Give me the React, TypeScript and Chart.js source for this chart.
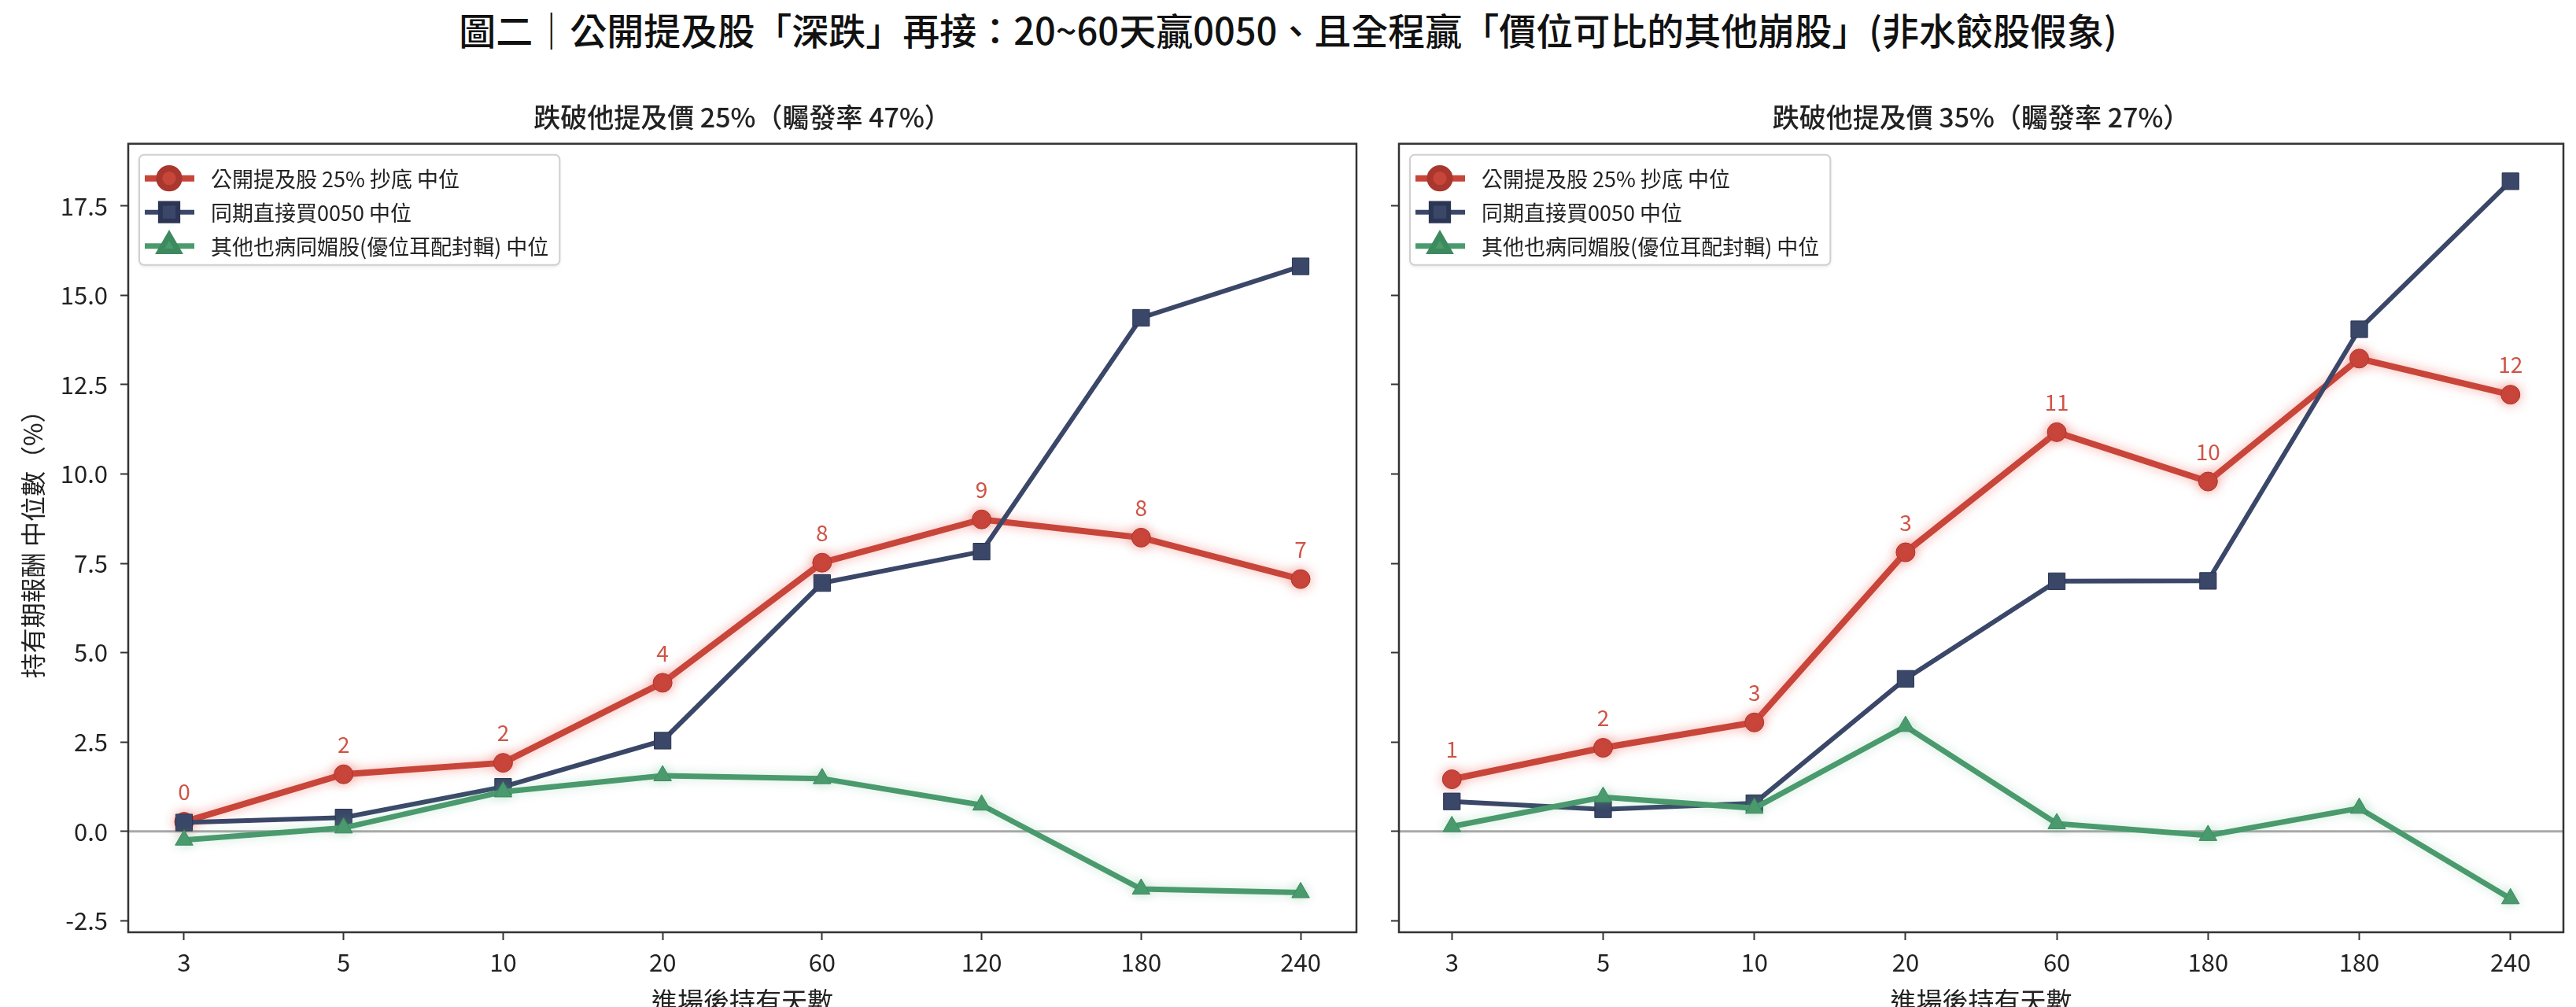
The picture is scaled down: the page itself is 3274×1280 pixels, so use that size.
import { useEffect, useRef } from "react";
import { Chart, registerables } from "chart.js";
import { drawPoint } from "chart.js/helpers";

Chart.register(...registerables);

const FONT = "'Noto Sans CJK TC', 'Noto Sans', sans-serif";

const mainTitle = "圖二｜公開提及股「深跌」再接：20~60天贏0050、且全程贏「價位可比的其他崩股」(非水餃股假象)";
const seriesNames = ["公開提及股 25% 抄底 中位", "同期直接買0050 中位", "其他也病同媚股(優位耳配封輯) 中位"];
const yTitle = "持有期報酬 中位數（%）";
const xTitle = "進場後持有天數";

// left panel: 跌破 25%
const daysLeft = ["3", "5", "10", "20", "60", "120", "180", "240"];
const pickLeft = [0.27, 1.6, 1.92, 4.16, 7.52, 8.73, 8.22, 7.06];
const etfLeft = [0.25, 0.39, 1.25, 2.54, 6.95, 7.83, 14.37, 15.81];
const peersLeft = [-0.24, 0.1, 1.11, 1.56, 1.48, 0.74, -1.61, -1.71];
const pickLeftTags = ["0", "2", "2", "4", "8", "9", "8", "7"];

// right panel: 跌破 35%
const daysRight = ["3", "5", "10", "20", "60", "180", "180", "240"];
const pickRight = [1.46, 2.34, 3.05, 7.81, 11.17, 9.79, 13.23, 12.22];
const etfRight = [0.84, 0.62, 0.79, 4.27, 7.0, 7.01, 14.05, 18.19];
const peersRight = [0.14, 0.96, 0.65, 2.94, 0.22, -0.11, 0.65, -1.88];
const pickRightTags = ["1", "2", "3", "3", "11", "10", "", "12"];

const yTicks = [-2.5, 0, 2.5, 5, 7.5, 10, 12.5, 15, 17.5];

const RED = "#c8453a";
const NAVY = "#3b4768";
const GREEN = "#4a9a6e";

const decorPlugin = {
    id: "decor",
    beforeDatasetsDraw(chart: any) {
        const { ctx, chartArea: a, scales } = chart;
        const y0 = scales.y.getPixelForValue(0);
        ctx.save();
        ctx.strokeStyle = "#a9a9a9";
        ctx.lineWidth = 3;
        ctx.beginPath();
        ctx.moveTo(a.left, y0);
        ctx.lineTo(a.right, y0);
        ctx.stroke();
        ctx.restore();
    },
    beforeDatasetDraw(chart: any, args: any) {
        const ds = chart.data.datasets[args.index];
        if (ds.glow) {
            chart.ctx.save();
            chart.ctx.shadowColor = ds.glow;
            chart.ctx.shadowBlur = 14;
        }
    },
    afterDatasetDraw(chart: any, args: any) {
        const ds = chart.data.datasets[args.index];
        if (ds.glow) chart.ctx.restore();
    },
    afterDatasetsDraw(chart: any) {
        const { ctx, chartArea: a } = chart;
        ctx.save();
        // value tags above the red points
        chart.data.datasets.forEach((ds: any, di: number) => {
            if (!ds.tags) return;
            const meta = chart.getDatasetMeta(di);
            ctx.fillStyle = "#cf5446";
            ctx.font = `28px ${FONT}`;
            ctx.textAlign = "center";
            ctx.textBaseline = "middle";
            meta.data.forEach((pt: any, i: number) => {
                if (ds.tags[i]) ctx.fillText(ds.tags[i], pt.x, pt.y - 38);
            });
        });
        // frame
        ctx.strokeStyle = "#333";
        ctx.lineWidth = 2.5;
        ctx.strokeRect(a.left, a.top, a.right - a.left, a.bottom - a.top);

        // legend
        ctx.font = `27px ${FONT}`;
        const textW = Math.max(...chart.data.datasets.map((d: any) => ctx.measureText(d.label).width));
        const bx = a.left + 14;
        const by = a.top + 14;
        const bw = 91 + textW + 14;
        const bh = 140;
        ctx.shadowColor = "rgba(0,0,0,0.12)";
        ctx.shadowBlur = 4;
        ctx.shadowOffsetY = 2;
        ctx.fillStyle = "#fff";
        ctx.beginPath();
        ctx.roundRect(bx, by, bw, bh, 6);
        ctx.fill();
        ctx.shadowColor = "transparent";
        ctx.strokeStyle = "#d0d0d0";
        ctx.lineWidth = 2;
        ctx.stroke();
        chart.data.datasets.forEach((d: any, i: number) => {
            const cy = by + 30 + i * 43;
            ctx.strokeStyle = d.borderColor;
            ctx.lineWidth = d.borderWidth;
            ctx.beginPath();
            ctx.moveTo(bx + 7, cy);
            ctx.lineTo(bx + 70, cy);
            ctx.stroke();
            ctx.fillStyle = d.backgroundColor;
            ctx.strokeStyle = d.pointBorderColor;
            drawPoint(ctx, { pointStyle: d.pointStyle, radius: d.pointRadius * 1.05, borderWidth: 1, rotation: 0 }, bx + 38, cy);
            ctx.fillStyle = "#222";
            ctx.textAlign = "left";
            ctx.textBaseline = "middle";
            ctx.fillText(d.label, bx + 91, cy + 1);
        });
        ctx.restore();
    },
};

interface PanelProps {
    title: string;
    days: string[];
    pick: number[];
    etf: number[];
    peers: number[];
    tags: string[];
    showY: boolean;
    left: number;
    width: number;
    yWidth: number;
    padRight: number;
}

const Panel: React.FC<PanelProps> = ({ title, days, pick, etf, peers, tags, showY, left, width, yWidth, padRight }) => {
    const canvasRef = useRef<HTMLCanvasElement | null>(null);

    useEffect(() => {
        if (!canvasRef.current) return;
        const pts = (vals: number[]) => vals.map((y, i) => ({ x: i, y }));
        const tickFont = { family: FONT, size: 31 };
        const chart = new Chart(canvasRef.current, {
            type: "line",
            data: {
                datasets: [
                    {
                        label: seriesNames[0],
                        data: pts(pick),
                        borderColor: RED,
                        backgroundColor: RED,
                        borderWidth: 8,
                        pointStyle: "circle",
                        pointRadius: 12,
                        pointBorderColor: "#a9372d",
                        pointBorderWidth: 1,
                        order: 2,
                        glow: "rgba(235,90,80,0.5)",
                        tags,
                    } as any,
                    {
                        label: seriesNames[1],
                        data: pts(etf),
                        borderColor: NAVY,
                        backgroundColor: NAVY,
                        borderWidth: 6,
                        pointStyle: "rect",
                        pointRadius: 15,
                        pointBorderColor: "#2c3654",
                        pointBorderWidth: 1,
                        order: 1,
                    },
                    {
                        label: seriesNames[2],
                        data: pts(peers),
                        borderColor: GREEN,
                        backgroundColor: GREEN,
                        borderWidth: 7,
                        pointStyle: "triangle",
                        pointRadius: 13,
                        pointBorderColor: "#3d8a5f",
                        pointBorderWidth: 1,
                        order: 0,
                        glow: "rgba(90,180,130,0.3)",
                    } as any,
                ],
            },
            options: {
                animation: false,
                responsive: false,
                layout: { padding: { left: 0, right: padRight, top: 0, bottom: 0 } },
                plugins: {
                    legend: { display: false },
                    tooltip: { enabled: false },
                    title: {
                        display: true,
                        text: title,
                        fullSize: false,
                        color: "#222",
                        font: { family: FONT, size: 34, weight: 500 },
                        padding: { top: 28.5, bottom: 13.4 },
                    },
                },
                scales: {
                    x: {
                        type: "linear",
                        min: -0.35,
                        max: days.length - 1 + 0.35,
                        afterBuildTicks: (s: any) => {
                            s.ticks = days.map((_, i) => ({ value: i }));
                        },
                        afterFit: (s: any) => {
                            s.height = 120;
                        },
                        ticks: {
                            callback: (v: any) => days[v] ?? "",
                            autoSkip: false,
                            maxRotation: 0,
                            padding: 10,
                            color: "#222",
                            font: tickFont,
                        },
                        grid: { drawOnChartArea: false, tickLength: 10, tickWidth: 2, tickColor: "#333" },
                        border: { display: false },
                        title: {
                            display: true,
                            text: xTitle,
                            color: "#222",
                            font: { family: FONT, size: 33 },
                            padding: { top: 0, bottom: 13 },
                        },
                    },
                    y: {
                        type: "linear",
                        min: -2.82,
                        max: 19.24,
                        afterBuildTicks: (s: any) => {
                            s.ticks = yTicks.map((v) => ({ value: v }));
                        },
                        afterFit: (s: any) => {
                            s.width = yWidth;
                        },
                        ticks: {
                            callback: (v: any) => (showY ? Number(v).toFixed(1) : ""),
                            padding: 16,
                            color: "#222",
                            font: tickFont,
                        },
                        grid: { drawOnChartArea: false, tickLength: 10, tickWidth: 2, tickColor: "#333" },
                        border: { display: false },
                        title: {
                            display: showY,
                            text: yTitle,
                            color: "#222",
                            font: { family: FONT, size: 32 },
                            padding: { top: 23, bottom: 0 },
                        },
                    },
                },
            },
            plugins: [decorPlugin],
        });
        return () => {
            chart.destroy();
        };
    }, [title, days, pick, etf, peers, tags, showY, yWidth, padRight]);

    return (
        <canvas
            ref={canvasRef}
            width={width}
            height={1205}
            style={{ position: "absolute", left, top: 100, width, height: 1205 }}
        ></canvas>
    );
};

export default function App() {
    return (
        <div
            style={{
                position: "absolute",
                left: 0,
                top: 0,
                width: 3274,
                height: 1280,
                overflow: "hidden",
                background: "#fff",
            }}
        >
            <div
                style={{
                    position: "absolute",
                    left: 0,
                    top: 12,
                    width: 3274,
                    textAlign: "center",
                    fontFamily: FONT,
                    fontSize: 47,
                    fontWeight: 500,
                    lineHeight: "50px",
                    color: "#111",
                }}
            >
                {mainTitle}
            </div>
            <Panel
                title="跌破他提及價 25%（矚發率 47%）"
                days={daysLeft}
                pick={pickLeft}
                etf={etfLeft}
                peers={peersLeft}
                tags={pickLeftTags}
                showY={true}
                left={0}
                width={1740}
                yWidth={163}
                padRight={10}
            />
            <Panel
                title="跌破他提及價 35%（矚發率 27%）"
                days={daysRight}
                pick={pickRight}
                etf={etfRight}
                peers={peersRight}
                tags={pickRightTags}
                showY={false}
                left={1700}
                width={1574}
                yWidth={78}
                padRight={1}
            />
        </div>
    );
}
